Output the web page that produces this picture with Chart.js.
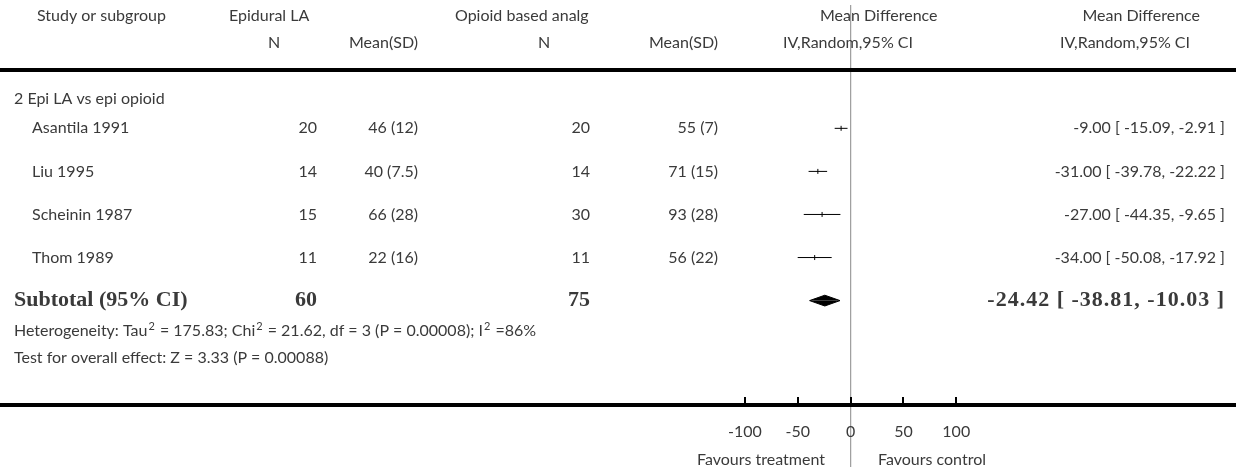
<!DOCTYPE html>
<html>
<head>
<meta charset="utf-8">
<script src="https://cdn.jsdelivr.net/npm/chart.js@4/dist/chart.umd.min.js"></script>
<style>
  html, body { margin: 0; padding: 0; background: #fff; }
  canvas { display: block; }
</style>
</head>
<body>
<canvas id="forest" width="1236" height="472"></canvas>
<script>
// study rows
const studies = ["Asantila 1991", "Liu 1995", "Scheinin 1987", "Thom 1989"];
const nTreat = [20, 14, 15, 11];
const meanTreat = [46, 40, 66, 22];
const sdTreat = [12, 7.5, 28, 16];
const nCtrl = [20, 14, 30, 11];
const meanCtrl = [55, 71, 93, 56];
const sdCtrl = [7, 15, 28, 22];
const md = [-9.00, -31.00, -27.00, -34.00];
const ciLow = [-15.09, -39.78, -44.35, -50.08];
const ciHigh = [-2.91, -22.22, -9.65, -17.92];

// pooled result
const subtotalN = [60, 75];
const subtotalMd = -24.42;
const subtotalLow = -38.81;
const subtotalHigh = -10.03;

const axisTicks = [-100, -50, 0, 50, 100];

const subgroupLabel = "2 Epi LA vs epi opioid";
const heterogeneity = "Heterogeneity: Tau\u00B2 = 175.83; Chi\u00B2 = 21.62, df = 3 (P = 0.00008); I\u00B2 =86%";
const overallTest = "Test for overall effect: Z = 3.33 (P = 0.00088)";

// layout: zero line at 852.5px, 1.065 px per unit; rows 44px apart starting at 126px
const W = 1236, H = 472;
const PX_PER_UNIT = 1.065, ZERO_PX = 852.5;
const ROW0_PX = 126, ROW_STEP = 44;
const subtotalRow = studies.length;
const diamondHalf = 5.5 / ROW_STEP;

const fmt2 = v => v.toFixed(2);
const ciText = (m, lo, hi) => fmt2(m) + " [ " + fmt2(lo) + ", " + fmt2(hi) + " ]";

const TEXT = "#3a3a3a";
const FONT = '16px Lato';
const BOLD = 'bold 22px "Liberation Serif"';

const tablePlugin = {
    id: "forestTable",
    afterDraw(chart) {
        const ctx = chart.ctx;
        const xs = chart.scales.x, ys = chart.scales.y;
        ctx.save();
        ctx.fillStyle = TEXT;
        ctx.textBaseline = "middle";

        function txt(s, x, y, align, font, spacing) {
            ctx.font = font || FONT;
            ctx.textAlign = align || "left";
            ctx.letterSpacing = (spacing || 0) + "px";
            ctx.fillText(s, x, y);
            ctx.letterSpacing = "0px";
        }

        // left-aligned text with bigger superscript 2
        function supTxt(s, x, y) {
            ctx.textAlign = "left";
            const parts = s.split("\u00B2");
            parts.forEach((p, i) => {
                ctx.font = FONT;
                ctx.fillText(p, x, y);
                x += ctx.measureText(p).width;
                if (i < parts.length - 1) {
                    ctx.font = "11px Lato";
                    ctx.fillText("2", x + 1, y - 5);
                    x += ctx.measureText("2").width + 2;
                }
            });
        }

        // header
        txt("Study or subgroup", 37, 16);
        txt("Epidural LA", 229, 16);
        txt("Opioid based analg", 455, 16);
        txt("Mean Difference", 820, 16);
        txt("Mean Difference", 1200, 16, "right");
        txt("N", 274, 43, "center");
        txt("Mean(SD)", 418, 43, "right");
        txt("N", 544, 43, "center");
        txt("Mean(SD)", 718, 43, "right");
        txt("IV,Random,95% CI", 783, 43);
        txt("IV,Random,95% CI", 1190, 43, "right");

        txt(subgroupLabel, 14, 99);

        studies.forEach((s, i) => {
            const y = ys.getPixelForValue(i);
            txt(s, 32, y);
            txt(String(nTreat[i]), 317, y, "right");
            txt(meanTreat[i] + " (" + sdTreat[i] + ")", 418, y, "right");
            txt(String(nCtrl[i]), 590, y, "right");
            txt(meanCtrl[i] + " (" + sdCtrl[i] + ")", 718, y, "right");
            txt(ciText(md[i], ciLow[i], ciHigh[i]), 1225, y, "right");
        });

        const ySub = ys.getPixelForValue(subtotalRow);
        txt("Subtotal (95% CI)", 14, ySub, "left", BOLD);
        txt(String(subtotalN[0]), 317, ySub, "right", BOLD);
        txt(String(subtotalN[1]), 590, ySub, "right", BOLD);
        txt(ciText(subtotalMd, subtotalLow, subtotalHigh), 1225, ySub, "right", BOLD, 1);

        supTxt(heterogeneity, 14, 331);
        supTxt(overallTest, 14, 358);

        // rules
        ctx.fillStyle = "#000";
        ctx.fillRect(0, 68, W, 4);
        ctx.fillRect(0, 403, W, 4);

        // axis ticks and labels
        axisTicks.forEach(t => {
            const x = xs.getPixelForValue(t);
            ctx.fillStyle = "#000";
            ctx.fillRect(Math.round(x) - 1, 397, 2, 7);
            ctx.fillStyle = TEXT;
            txt(String(t), x, 432, "center");
        });
        txt("Favours treatment", 825, 460, "right");
        txt("Favours control", 878, 460, "left");
        ctx.restore();
    }
};

const ciSets = studies.map((s, i) => ({
    type: "line",
    data: [{ x: ciLow[i], y: i }, { x: ciHigh[i], y: i }],
    borderColor: "#000",
    borderWidth: 1,
    pointRadius: 0
}));

const yMin = -ROW0_PX / ROW_STEP;
const yMax = (H - ROW0_PX) / ROW_STEP;

new Chart(document.getElementById("forest"), {
    type: "scatter",
    data: {
        datasets: [
            {
                data: md.map((v, i) => ({ x: v, y: i })),
                pointStyle: "line",
                rotation: 90,
                pointRadius: 2.5,
                borderColor: "#000",
                borderWidth: 1
            },
            ...ciSets,
            {
                type: "line",
                data: [{ x: subtotalLow, y: subtotalRow }, { x: subtotalMd, y: subtotalRow - diamondHalf }, { x: subtotalHigh, y: subtotalRow }],
                fill: { value: subtotalRow },
                backgroundColor: "#000",
                borderColor: "#000",
                borderWidth: 1,
                pointRadius: 0
            },
            {
                type: "line",
                data: [{ x: subtotalLow, y: subtotalRow }, { x: subtotalMd, y: subtotalRow + diamondHalf }, { x: subtotalHigh, y: subtotalRow }],
                fill: { value: subtotalRow },
                backgroundColor: "#000",
                borderColor: "#000",
                borderWidth: 1,
                pointRadius: 0
            },
            {
                type: "line",
                data: [{ x: 0, y: yMin }, { x: 0, y: yMax }],
                borderColor: "#a0a0a0",
                borderWidth: 1,
                pointRadius: 0
            }
        ]
    },
    options: {
        responsive: false,
        animation: false,
        layout: { padding: 0 },
        plugins: { legend: { display: false }, tooltip: { enabled: false } },
        scales: {
            x: { type: "linear", display: false, min: -ZERO_PX / PX_PER_UNIT, max: (W - ZERO_PX) / PX_PER_UNIT },
            y: { type: "linear", display: false, reverse: true, min: yMin, max: yMax }
        }
    },
    plugins: [tablePlugin]
});
</script>
</body>
</html>
